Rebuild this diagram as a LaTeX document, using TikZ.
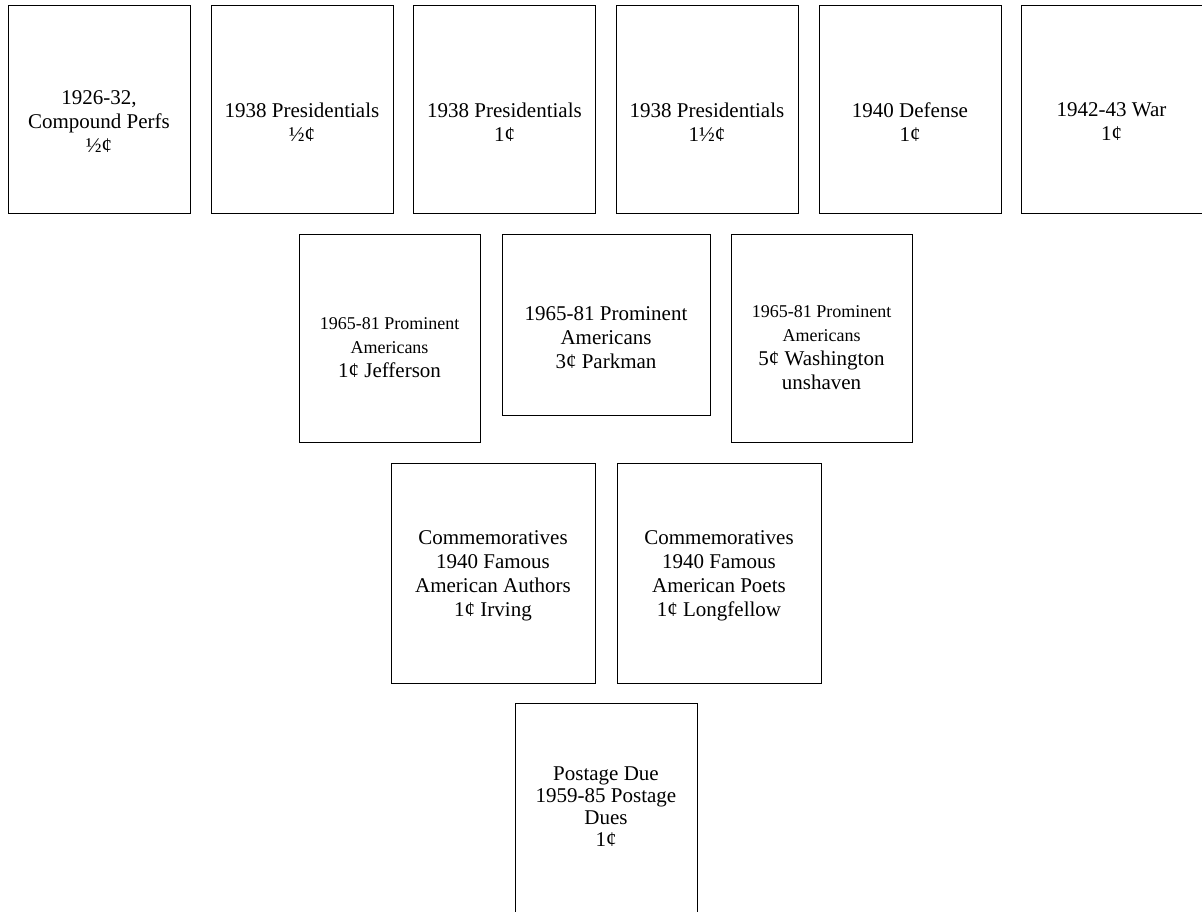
\documentclass[tikz,border=0pt]{standalone}
\usepackage{fontspec}
\setmainfont{Liberation Serif}
\usepackage{tikz}
\usetikzlibrary{positioning}
\newcommand{\stampfont}{\fontsize{10.5}{12}\selectfont}
\newcommand{\smallstamp}{\fontsize{9}{10.5}\selectfont}

\begin{document}
\begin{tikzpicture}[x=0.5pt,y=-0.5pt,
    stamp/.style={draw,line width=0.5pt,minimum width=91pt,minimum height=104pt,inner sep=0pt},
    caption/.style={align=center,font=\stampfont,inner sep=0pt}]
      \useasboundingbox (0,0) rectangle (1202,911);
      \node[stamp](perfs) at (99,109){};
      \node[stamp](preshalf) at (302,109){};
      \node[stamp](presone) at (504.5,109){};
      \node[stamp](presonehalf) at (707,109){};
      \node[stamp](defense) at (910,109){};
      \node[stamp,minimum width=94pt](war) at (1115.5,109){};
      \node[stamp,minimum width=90.5pt](jefferson) at (389.5,338){};
      \node[stamp,minimum width=104pt,minimum height=90.5pt](parkman) at (606,324.5){};
      \node[stamp,minimum width=90.5pt](washington) at (821.5,338){};
      \node[stamp,minimum width=102pt,minimum height=110pt](irving) at (493,573){};
      \node[stamp,minimum width=102pt,minimum height=110pt](longfellow) at (719,573){};
      \node[stamp,minimum height=106pt](due) at (606,809){};
      \node[caption,yshift=-6.5pt](perfstext) at (perfs){1926-32,\\Compound Perfs\\½¢};
      \node[caption,yshift=-6.5pt](preshalftext) at (preshalf){1938 Presidentials\\½¢};
      \node[caption,yshift=-6.5pt](presonetext) at (presone){1938 Presidentials\\1¢};
      \node[caption,yshift=-6.5pt](presonehalftext) at (presonehalf){1938 Presidentials\\1½¢};
      \node[caption,yshift=-6.5pt](defensetext) at (defense){1940 Defense\\1¢};
      \node[caption,yshift=-6.5pt](wartext) at (1111.5,109){1942-43 War\\1¢};
      \node[caption,yshift=-5pt](jeffersontext) at (jefferson){\smallstamp 1965-81 Prominent\\\smallstamp Americans\\1¢ Jefferson};
      \node[caption,yshift=-6.75pt](parkmantext) at (parkman){1965-81 Prominent\\Americans\\3¢ Parkman};
      \node[caption,yshift=-5pt](washingtontext) at (washington){\smallstamp 1965-81 Prominent\\\smallstamp Americans\\5¢ Washington\\unshaven};
      \node[caption,yshift=-1.5pt](irvingtext) at (irving){Commemoratives\\1940 Famous\\American Authors\\1¢ Irving};
      \node[caption,yshift=-1.5pt](longfellowtext) at (longfellow){Commemoratives\\1940 Famous\\American Poets\\1¢ Longfellow};
      \node[caption,font=\fontsize{10.5}{11}\selectfont](duetext) at (606,807){Postage Due\\1959-85 Postage\\Dues\\1¢};
    \end{tikzpicture}
\end{document}
